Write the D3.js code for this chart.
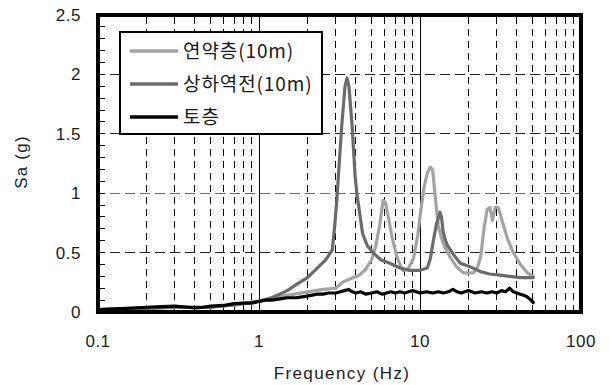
<!DOCTYPE html>
<html><head><meta charset="utf-8">
<script src="https://cdn.jsdelivr.net/npm/d3@7/dist/d3.min.js"></script>
<style>body{margin:0;background:#fff}svg{display:block}</style>
</head><body>
<svg id="c" width="609" height="385"></svg>
<script>
// ---- data ----
const seriesNames = ["연약층(10m)", "상하역전(10m)", "토층"];
const seriesColors = ["#a3a3a3", "#6b6b6b", "#000000"];

const softFreq = [0.1,0.2,0.3,0.5,0.7,1.0,1.2,1.5,2.0,2.5,3.0,3.3,3.7,4.2,4.6,5.0,5.3,5.6,5.9,6.1,6.4,6.7,7.2,7.8,8.4,9.1,9.7,10.1,10.6,11.1,11.6,12.0,12.5,13.0,13.9,15.4,16.9,18.6,20.5,21.5,22.8,23.8,24.9,26.1,27.2,28.2,29.3,30.5,31.3,32.3,34.9,38.0,42.0,46.4,50.5];
const softSa   = [0.02,0.03,0.04,0.04,0.06,0.09,0.12,0.14,0.17,0.19,0.20,0.25,0.28,0.31,0.36,0.44,0.55,0.72,0.94,0.92,0.78,0.63,0.46,0.35,0.36,0.45,0.65,0.85,1.05,1.17,1.22,1.19,0.94,0.72,0.58,0.46,0.38,0.33,0.33,0.33,0.38,0.46,0.69,0.86,0.88,0.77,0.88,0.88,0.84,0.77,0.62,0.50,0.40,0.33,0.30];

const invFreq = [0.1,0.2,0.3,0.5,0.7,1.0,1.2,1.5,1.7,2.0,2.3,2.6,2.85,2.95,3.05,3.15,3.27,3.42,3.52,3.62,3.79,3.95,4.05,4.4,4.7,5.1,5.7,6.5,7.5,8.6,9.9,11.1,11.6,12.1,12.7,13.0,13.3,13.6,13.9,14.4,14.8,15.5,16.2,17.8,20.5,23.8,27,31.4,36,42,50.5];
const invSa   = [0.02,0.03,0.04,0.04,0.06,0.09,0.12,0.18,0.23,0.29,0.37,0.44,0.52,0.72,0.96,1.25,1.58,1.90,1.97,1.90,1.56,1.15,1.00,0.66,0.56,0.50,0.44,0.41,0.37,0.35,0.35,0.37,0.45,0.60,0.75,0.79,0.84,0.80,0.68,0.60,0.56,0.52,0.48,0.41,0.38,0.34,0.32,0.31,0.30,0.29,0.29];

const soilFreq = [0.1,0.15,0.2,0.25,0.3,0.35,0.4,0.45,0.5,0.6,0.7,0.8,0.9,1.0,1.1,1.2,1.35,1.5,1.7,1.9,2.1,2.3,2.5,2.7,3.0,3.2,3.4,3.6,3.8,4.0,4.3,4.6,5.0,5.4,5.8,6.2,6.6,7.0,7.5,8.0,8.5,9.0,9.5,10,11,12,13,14,15,16,17,18,19,20,22,24,26,28,30,32,34,36,38,40,42,44,46,48,50.5];
const soilSa   = [0.02,0.03,0.04,0.045,0.05,0.042,0.035,0.04,0.05,0.055,0.07,0.075,0.075,0.09,0.10,0.10,0.11,0.12,0.12,0.13,0.14,0.15,0.15,0.16,0.16,0.17,0.18,0.19,0.17,0.16,0.17,0.15,0.16,0.17,0.15,0.16,0.17,0.16,0.17,0.16,0.17,0.18,0.17,0.16,0.17,0.16,0.17,0.16,0.17,0.19,0.17,0.16,0.17,0.18,0.16,0.17,0.16,0.17,0.16,0.18,0.17,0.20,0.17,0.16,0.15,0.14,0.13,0.11,0.08];

const xTickValues = [0.1, 1, 10, 100];
const xTickLabels = ["0.1", "1", "10", "100"];
const yTickValues = [0, 0.5, 1, 1.5, 2, 2.5];
const yTickLabels = ["0", "0.5", "1", "1.5", "2", "2.5"];
const xLabel = "Frequency (Hz)";
const yLabel = "Sa (g)";

// ---- chart ----
const svg = d3.select("#c");
const L = 98, R = 581, T = 15, B = 312;
const x = d3.scaleLog().domain([0.1, 100]).range([L, R]);
const y = d3.scaleLinear().domain([0, 2.5]).range([B, T]);
const font = "'Liberation Sans', Arial, sans-serif";
const txt = "#1a1a1a";

// minor vertical dashed gridlines
const minorX = [];
[0.1, 1, 10].forEach(d => { for (let k = 2; k <= 9; k++) minorX.push(d * k); });
svg.append("g").attr("shape-rendering", "crispEdges").selectAll("line").data(minorX).join("line")
  .attr("x1", d => x(d)).attr("x2", d => x(d))
  .attr("y1", B).attr("y2", T)
  .attr("stroke", "#000").attr("stroke-width", 1).attr("stroke-dasharray", "7,5");
// solid decade lines
svg.append("g").attr("shape-rendering", "crispEdges").selectAll("line").data([1, 10]).join("line")
  .attr("x1", d => x(d)).attr("x2", d => x(d))
  .attr("y1", B).attr("y2", T)
  .attr("stroke", "#000").attr("stroke-width", 1);
// horizontal dashed gridlines
svg.append("g").attr("shape-rendering", "crispEdges").selectAll("line").data([0.5, 1, 1.5, 2]).join("line")
  .attr("x1", L).attr("x2", R)
  .attr("y1", d => y(d)).attr("y2", d => y(d))
  .attr("stroke", d => d === 1 ? "#6a6a6a" : "#222").attr("stroke-width", 1)
  .attr("stroke-dasharray", "10,5").attr("stroke-dashoffset", -12);

// left inner minor ticks
svg.append("g").attr("shape-rendering", "crispEdges").selectAll("line").data(d3.range(1, 25)).join("line")
  .attr("x1", L).attr("x2", L + 7)
  .attr("y1", d => y(d / 10)).attr("y2", d => y(d / 10))
  .attr("stroke", "#000").attr("stroke-width", 1);

// legend box (white, covers grid)
const lg = svg.append("g");
lg.append("rect").attr("x", 120).attr("y", 32).attr("width", 202).attr("height", 102)
  .attr("fill", "#fff").attr("stroke", "#000").attr("stroke-width", 2);

// curves
const line = d3.line().x(d => x(d[0])).y(d => y(d[1])).curve(d3.curveLinear);
const series = [
  d3.zip(softFreq, softSa),
  d3.zip(invFreq, invSa),
  d3.zip(soilFreq, soilSa)
];
series.forEach((s, i) => {
  svg.append("path").datum(s).attr("d", line)
    .attr("fill", "none").attr("stroke", seriesColors[i])
    .attr("stroke-width", 3.2).attr("stroke-linejoin", "round").attr("stroke-linecap", "round");
});

// legend entries
const rowY = [51, 84, 117];
seriesNames.forEach((n, i) => {
  lg.append("line").attr("x1", 130).attr("x2", 178).attr("y1", rowY[i]).attr("y2", rowY[i])
    .attr("stroke", seriesColors[i]).attr("stroke-width", 3.5);
  lg.append("text").attr("x", 183).attr("y", rowY[i] + 7)
    .attr("font-family", "'Noto Sans CJK KR', sans-serif").attr("font-size", 19)
    .attr("letter-spacing", 0.9).attr("fill", txt).text(n);
});

// frame
svg.append("rect").attr("x", L).attr("y", T).attr("width", R - L).attr("height", B - T)
  .attr("fill", "none").attr("stroke", "#000").attr("stroke-width", 4);

// tick labels
svg.append("g").selectAll("text").data(xTickValues).join("text")
  .attr("x", d => x(d)).attr("y", 347).attr("text-anchor", "middle")
  .attr("font-family", font).attr("font-size", 17).attr("letter-spacing", 0.5).attr("fill", txt)
  .text((d, i) => xTickLabels[i]);
svg.append("g").selectAll("text").data(yTickValues).join("text")
  .attr("x", 81).attr("y", d => y(d) + 6).attr("text-anchor", "end")
  .attr("font-family", font).attr("font-size", 17).attr("letter-spacing", 0.5).attr("fill", txt)
  .text((d, i) => yTickLabels[i]);

// axis titles
svg.append("text").attr("x", 342).attr("y", 379).attr("text-anchor", "middle")
  .attr("font-family", font).attr("font-size", 17).attr("letter-spacing", 1.4).attr("fill", txt).text(xLabel);
svg.append("text").attr("transform", "translate(27,162) rotate(-90)").attr("text-anchor", "middle")
  .attr("font-family", font).attr("font-size", 17).attr("letter-spacing", 1.2).attr("fill", txt).text(yLabel);
</script>
</body></html>
